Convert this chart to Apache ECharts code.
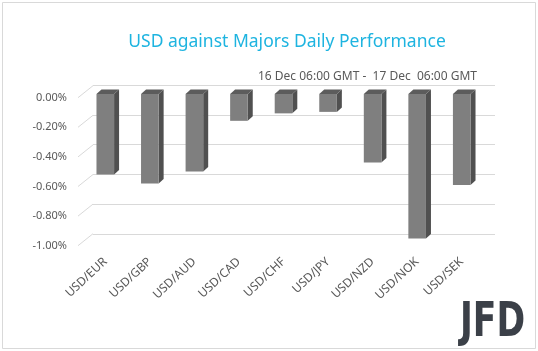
<!DOCTYPE html>
<html>
<head>
<meta charset="utf-8">
<script src="https://cdn.jsdelivr.net/npm/echarts@6/dist/echarts.min.js"></script>
<style>
  html, body { margin: 0; padding: 0; background: #fff; }
  #chart { width: 538px; height: 351px; }
</style>
</head>
<body>
<div id="chart"></div>
<script>
// data
const pairs = ['USD/EUR', 'USD/GBP', 'USD/AUD', 'USD/CAD', 'USD/CHF', 'USD/JPY', 'USD/NZD', 'USD/NOK', 'USD/SEK']
const change = [-0.54, -0.60, -0.52, -0.18, -0.13, -0.12, -0.46, -0.97, -0.61]
const yTicks = [0, -0.2, -0.4, -0.6, -0.8, -1.0]
const titleText = 'USD against Majors Daily Performance'
const periodText = '16 Dec 06:00 GMT -  17 Dec  06:00 GMT'

const FONT = 'Noto Sans'
const GREY = '#595959'

let chart = echarts.init(document.getElementById('chart'), null, { renderer: 'canvas' })

// fake 3d bar: front face, side and top
function bar3d (params, api) {
  let base = api.coord([api.value(0), 0])
  let end = api.coord([api.value(0), api.value(1)])
  let w = api.size([1, 0])[0] * 0.395
  let dx = 5
  let dy = -4.5
  let l = base[0] - w / 2
  let r = base[0] + w / 2
  let y0 = base[1]
  let y1 = end[1]
  return {
    type: 'group',
    children: [
      {
        type: 'polygon',
        shape: { points: [[r, y0], [r + dx, y0 + dy], [r + dx, y1 + dy], [r, y1]] },
        style: { fill: '#505050' }
      },
      {
        type: 'polygon',
        shape: { points: [[l, y0], [l + dx, y0 + dy], [r + dx, y0 + dy], [r, y0]] },
        style: { fill: '#5c5c5c' }
      },
      {
        type: 'rect',
        shape: { x: l, y: y0, width: w, height: y1 - y0 },
        style: { fill: '#7f7f7f' }
      }
    ]
  }
}

// little slanted lines from the labels to the back wall
function floorTick (params, api) {
  let p = api.coord([0, api.value(0)])
  return {
    type: 'line',
    shape: { x1: p[0], y1: p[1], x2: p[0] + 15, y2: p[1] - 12 },
    style: { stroke: '#d9d9d9', lineWidth: 1 }
  }
}

chart.setOption({
  animation: false,
  backgroundColor: '#fff',
  title: [
    {
      text: titleText,
      left: 282,
      top: 28,
      textAlign: 'center',
      textStyle: { color: '#1eb4e0', fontFamily: FONT, fontSize: 17.5, fontWeight: 'normal' }
    },
    {
      text: periodText,
      right: 56,
      top: 66,
      textStyle: { color: GREY, fontFamily: FONT, fontSize: 12, fontWeight: 'normal' }
    }
  ],
  grid: [
    // back wall with gridlines
    { left: 93, right: 43, top: 85, height: 149 },
    // tick labels (front edge)
    { left: 78, right: 445, top: 97.7, height: 148 },
    // bars
    { left: 83, right: 54, top: 94, height: 149 }
  ],
  xAxis: [
    { gridIndex: 0, type: 'value', show: false, min: 0, max: 1 },
    { gridIndex: 1, type: 'value', show: false, min: 0, max: 1 },
    {
      gridIndex: 2,
      type: 'category',
      data: pairs,
      axisLine: { show: false },
      axisTick: { show: false },
      axisLabel: {
        rotate: 43,
        margin: 17,
        color: GREY,
        fontFamily: FONT,
        fontSize: 12
      }
    }
  ],
  yAxis: [
    {
      gridIndex: 0,
      type: 'value',
      min: -1,
      max: 0,
      interval: 0.2,
      axisLine: { show: false },
      axisTick: { show: false },
      axisLabel: { show: false },
      splitLine: { lineStyle: { color: '#d9d9d9', width: 1 } }
    },
    {
      gridIndex: 1,
      type: 'value',
      min: -1,
      max: 0,
      interval: 0.2,
      axisLine: { show: false },
      axisTick: { show: false },
      splitLine: { show: false },
      axisLabel: {
        margin: 11,
        color: GREY,
        fontFamily: FONT,
        fontSize: 11,
        formatter: v => (Math.abs(v) < 1e-9 ? 0 : v).toFixed(2) + '%'
      }
    },
    {
      gridIndex: 2,
      type: 'value',
      min: -1,
      max: 0,
      show: false
    }
  ],
  series: [
    {
      type: 'custom',
      xAxisIndex: 1,
      yAxisIndex: 1,
      renderItem: floorTick,
      data: yTicks.map(v => [v])
    },
    {
      type: 'custom',
      xAxisIndex: 2,
      yAxisIndex: 2,
      renderItem: bar3d,
      data: change.map((v, i) => [i, v])
    }
  ],
  graphic: [
    {
      type: 'rect',
      shape: { x: 2.5, y: 2.5, width: 533, height: 346 },
      style: { fill: null, stroke: '#d9d9d9', lineWidth: 1 },
      silent: true
    },
    {
      type: 'text',
      x: 460,
      y: 300,
      scaleX: 0.72,
      style: {
        text: 'JFD',
        fill: '#3b4048',
        font: 'bold 48px "DejaVu Sans"'
      }
    }
  ]
})
</script>
</body>
</html>
